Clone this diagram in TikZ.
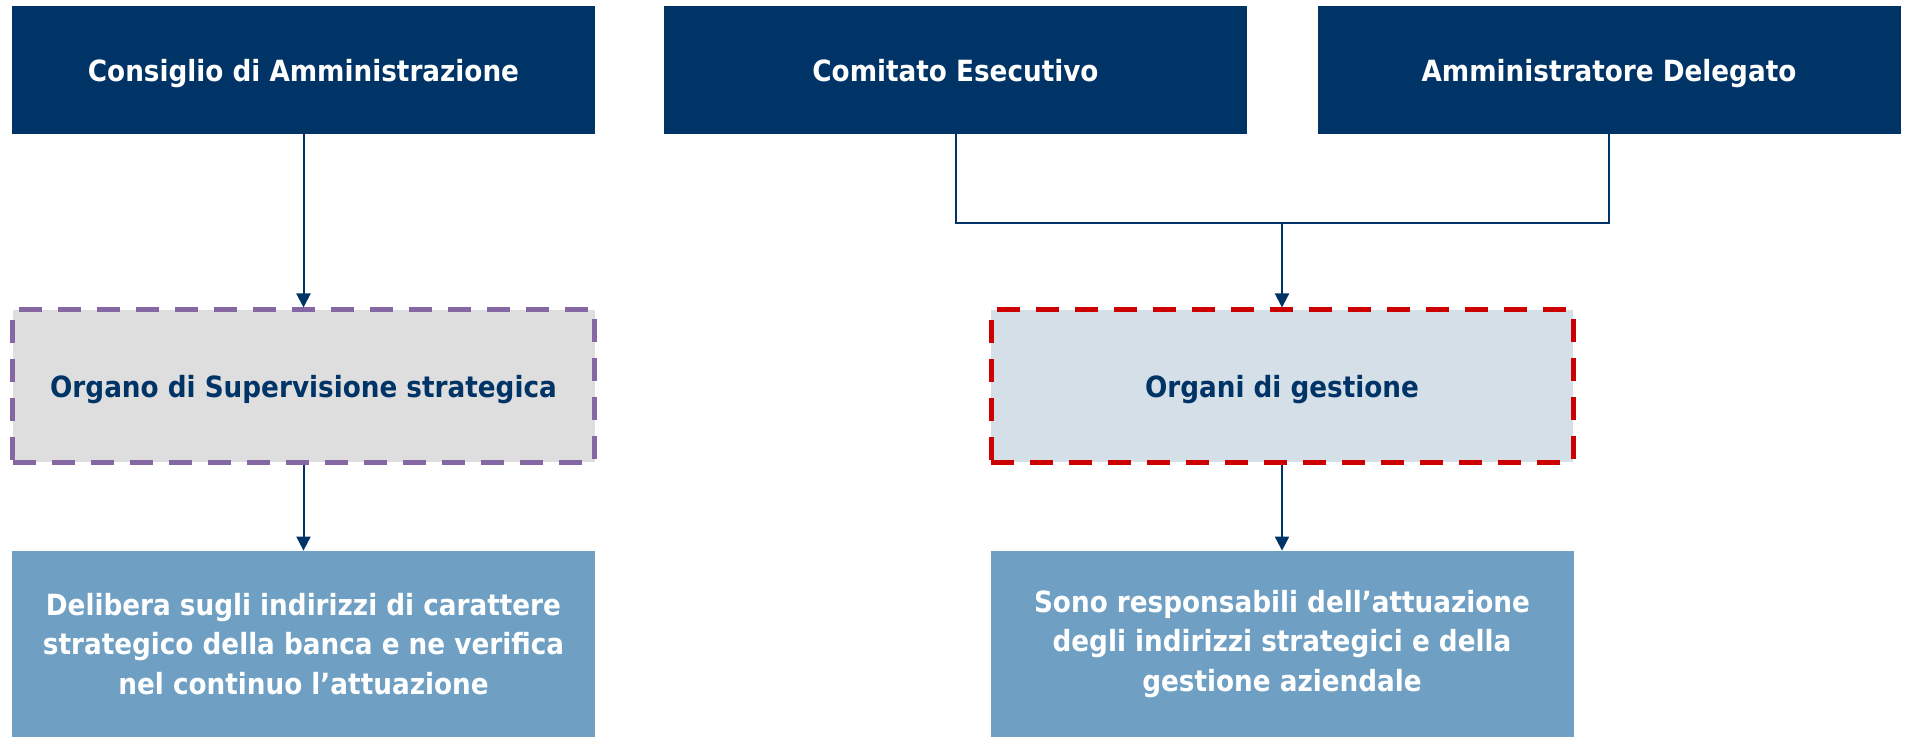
\documentclass[tikz,border=0pt]{standalone}
\usepackage{fontspec}
\setmainfont{DejaVu Sans Condensed}
\usetikzlibrary{arrows.meta}
\definecolor{navy}{HTML}{003366}
\definecolor{viola}{HTML}{8467A3}
\definecolor{rosso}{HTML}{CC0000}
\definecolor{grigio}{HTML}{DEDEDE}
\definecolor{azzurro}{HTML}{D5DFE8}
\definecolor{celeste}{HTML}{6FA0C4}

\begin{document}
\begin{tikzpicture}[x=0.5pt,y=-0.5pt,>={Triangle[width=7pt,length=7pt]},
    font=\bfseries\fontsize{14.6}{19.8}\selectfont,
    organo/.style={rectangle,fill=navy,text=white,minimum width=291.5pt,minimum height=64pt,inner sep=0pt,text depth=0pt},
    ruolo/.style={rectangle,text=navy,line width=2.5pt,dash pattern=on 11.5pt off 8pt,minimum width=291pt,minimum height=76pt,inner sep=0pt,text depth=0pt},
    compito/.style={rectangle,fill=celeste,text=white,align=center,minimum width=291.5pt,minimum height=93pt,inner sep=0pt},
    freccia/.style={->,navy,line width=1pt}]

    \useasboundingbox (0,0) rectangle (1911,737);

    % Organi in alto
    \node[organo] (cda) at (303.5,70) {Consiglio di Amministrazione};
    \node[organo] (ce) at (955.5,70) {Comitato Esecutivo};
    \node[organo] (ad) at (1609,70) {Amministratore Delegato};

    % Funzioni
    \node[ruolo,fill=grigio,draw=viola] (oss) at (303.5,386) {Organo di Supervisione strategica};
    \node[ruolo,fill=azzurro,draw=rosso] (og) at (1282,386) {Organi di gestione};

    % Compiti
    \node[compito] (delibera) at (303.5,644) {Delibera sugli indirizzi di carattere\\strategico della banca e ne verifica\\nel continuo l’attuazione};
    \node[compito] (attua) at (1282,644) {Sono responsabili dell’attuazione\\degli indirizzi strategici e della\\gestione aziendale};

    % Collegamenti
    \coordinate (giunto) at (1282,223);
    \draw[freccia] (cda.south) -- (oss.north);
    \draw[navy,line width=1pt] (ce.south) -- (ce.south |- giunto) -- (ad.south |- giunto) -- (ad.south);
    \draw[freccia] (giunto) -- (og.north);
    \draw[freccia] (oss.south) -- (delibera.north);
    \draw[freccia] (og.south) -- (attua.north);
\end{tikzpicture}
\end{document}
